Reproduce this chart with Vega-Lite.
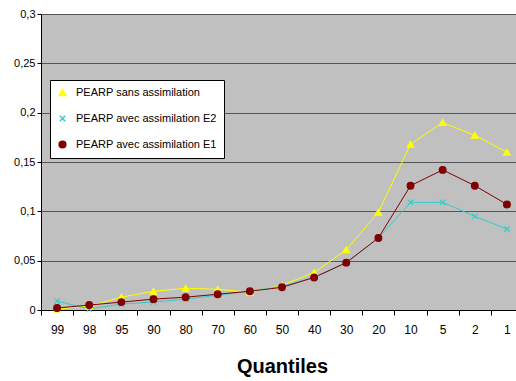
{
  "$schema": "https://vega.github.io/schema/vega-lite/v6.json",
  "width": 475,
  "height": 296,
  "autosize": {"type": "none"},
  "padding": {"left": 41, "top": 14, "right": 0, "bottom": 71},
  "background": "white",
  "config": {
    "view": {"fill": "#c0c0c0", "stroke": null},
    "font": "Liberation Sans"
  },
  "data": {
    "values": [
      {"q": "99", "s": "PEARP sans assimilation", "v": 0.001},
      {"q": "98", "s": "PEARP sans assimilation", "v": 0.004},
      {"q": "95", "s": "PEARP sans assimilation", "v": 0.013},
      {"q": "90", "s": "PEARP sans assimilation", "v": 0.019},
      {"q": "80", "s": "PEARP sans assimilation", "v": 0.022},
      {"q": "70", "s": "PEARP sans assimilation", "v": 0.021},
      {"q": "60", "s": "PEARP sans assimilation", "v": 0.018},
      {"q": "50", "s": "PEARP sans assimilation", "v": 0.025},
      {"q": "40", "s": "PEARP sans assimilation", "v": 0.038},
      {"q": "30", "s": "PEARP sans assimilation", "v": 0.061},
      {"q": "20", "s": "PEARP sans assimilation", "v": 0.099},
      {"q": "10", "s": "PEARP sans assimilation", "v": 0.168},
      {"q": "5", "s": "PEARP sans assimilation", "v": 0.19},
      {"q": "2", "s": "PEARP sans assimilation", "v": 0.177},
      {"q": "1", "s": "PEARP sans assimilation", "v": 0.16},
      {"q": "99", "s": "PEARP avec assimilation E2", "v": 0.009},
      {"q": "98", "s": "PEARP avec assimilation E2", "v": 0.001},
      {"q": "95", "s": "PEARP avec assimilation E2", "v": 0.006},
      {"q": "90", "s": "PEARP avec assimilation E2", "v": 0.008},
      {"q": "80", "s": "PEARP avec assimilation E2", "v": 0.011},
      {"q": "70", "s": "PEARP avec assimilation E2", "v": 0.015},
      {"q": "60", "s": "PEARP avec assimilation E2", "v": 0.019},
      {"q": "50", "s": "PEARP avec assimilation E2", "v": 0.024},
      {"q": "40", "s": "PEARP avec assimilation E2", "v": 0.033},
      {"q": "30", "s": "PEARP avec assimilation E2", "v": 0.048},
      {"q": "20", "s": "PEARP avec assimilation E2", "v": 0.073},
      {"q": "10", "s": "PEARP avec assimilation E2", "v": 0.109},
      {"q": "5", "s": "PEARP avec assimilation E2", "v": 0.109},
      {"q": "2", "s": "PEARP avec assimilation E2", "v": 0.095},
      {"q": "1", "s": "PEARP avec assimilation E2", "v": 0.082},
      {"q": "99", "s": "PEARP avec assimilation E1", "v": 0.002},
      {"q": "98", "s": "PEARP avec assimilation E1", "v": 0.005},
      {"q": "95", "s": "PEARP avec assimilation E1", "v": 0.008},
      {"q": "90", "s": "PEARP avec assimilation E1", "v": 0.011},
      {"q": "80", "s": "PEARP avec assimilation E1", "v": 0.013},
      {"q": "70", "s": "PEARP avec assimilation E1", "v": 0.016},
      {"q": "60", "s": "PEARP avec assimilation E1", "v": 0.019},
      {"q": "50", "s": "PEARP avec assimilation E1", "v": 0.023},
      {"q": "40", "s": "PEARP avec assimilation E1", "v": 0.033},
      {"q": "30", "s": "PEARP avec assimilation E1", "v": 0.048},
      {"q": "20", "s": "PEARP avec assimilation E1", "v": 0.073},
      {"q": "10", "s": "PEARP avec assimilation E1", "v": 0.126},
      {"q": "5", "s": "PEARP avec assimilation E1", "v": 0.142},
      {"q": "2", "s": "PEARP avec assimilation E1", "v": 0.126},
      {"q": "1", "s": "PEARP avec assimilation E1", "v": 0.107}
    ]
  },
  "encoding": {
    "x": {
      "field": "q",
      "type": "nominal",
      "bandPosition": 0.5,
      "scale": {
        "type": "band",
        "domain": ["99", "98", "95", "90", "80", "70", "60", "50", "40", "30", "20", "10", "5", "2", "1"],
        "range": [0, 482],
        "paddingInner": 0,
        "paddingOuter": 0
      },
      "axis": {
        "title": "Quantiles",
        "titleFont": "Liberation Sans",
        "titleFontSize": 20,
        "titleFontWeight": "bold",
        "titleColor": "black",
        "titlePadding": 21,
        "labelAngle": 0,
        "labelFont": "Liberation Sans",
        "labelFontSize": 12,
        "labelColor": "black",
        "labelPadding": 9,
        "tickBand": "extent",
        "tickSize": 5,
        "tickColor": "black",
        "domainColor": "black",
        "grid": false
      }
    },
    "y": {
      "field": "v",
      "type": "quantitative",
      "scale": {"domain": [0, 0.3], "nice": false, "zero": true},
      "axis": {
        "title": null,
        "values": [0, 0.05, 0.1, 0.15, 0.2, 0.25, 0.3],
        "labelExpr": "replace(format(datum.value, '~g'), '.', ',')",
        "labelFont": "Liberation Sans",
        "labelFontSize": 11,
        "labelColor": "black",
        "labelPadding": 2,
        "tickSize": 4,
        "tickColor": "black",
        "domainColor": "black",
        "grid": true,
        "gridColor": "#555555",
        "gridWidth": 1
      }
    },
    "color": {
      "field": "s",
      "type": "nominal",
      "scale": {
        "domain": ["PEARP sans assimilation", "PEARP avec assimilation E2", "PEARP avec assimilation E1"],
        "range": ["#ffff00", "#33cccc", "#800000"]
      },
      "legend": {
        "title": null,
        "orient": "none",
        "legendX": 9,
        "legendY": 66,
        "fillColor": "white",
        "strokeColor": "black",
        "padding": 7,
        "rowPadding": 13,
        "labelFont": "Liberation Sans",
        "labelFontSize": 11,
        "labelColor": "black",
        "symbolSize": 45,
        "labelOffset": 8,
        "cornerRadius": 0
      }
    }
  },
  "layer": [
    {
      "mark": {"type": "line", "strokeWidth": 1}
    },
    {
      "mark": {"type": "point", "filled": true, "size": 45, "opacity": 1, "strokeWidth": 1.2},
      "encoding": {
        "shape": {
          "field": "s",
          "type": "nominal",
          "scale": {
            "domain": ["PEARP sans assimilation", "PEARP avec assimilation E2", "PEARP avec assimilation E1"],
            "range": ["triangle-up", "M-0.8,-0.8L0.8,0.8M-0.8,0.8L0.8,-0.8", "circle"]
          },
          "legend": null
        },
        "stroke": {
          "field": "s",
          "type": "nominal",
          "scale": {
            "domain": ["PEARP sans assimilation", "PEARP avec assimilation E2", "PEARP avec assimilation E1"],
            "range": ["#ffff00", "#33cccc", "#800000"]
          },
          "legend": null
        }
      }
    }
  ]
}
